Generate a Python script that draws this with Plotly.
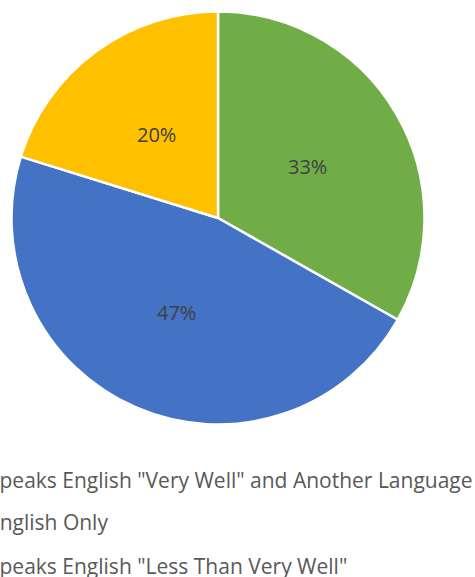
import math
import plotly.graph_objects as go

labels = ['Speaks English "Very Well" and Another Language',
          'English Only',
          'Speaks English "Less Than Very Well"']
values = [33.2, 46.6, 20.2]
colors = ["#70AD47", "#4472C4", "#FFC000"]

W, H = 475, 577
cx, cy, r = 218, 218, 206.5

fig = go.Figure()
fig.add_trace(go.Pie(
    labels=labels, values=values, sort=False, direction="clockwise", rotation=0,
    marker=dict(colors=colors, line=dict(color="white", width=2.5)),
    textinfo="none",
    domain=dict(x=[(cx - r) / W, (cx + r) / W], y=[1 - (cy + r) / H, 1 - (cy - r) / H]),
    showlegend=False, hoverinfo="label+percent",
))

# data labels at half radius on each slice's mid angle (Excel style)
total = sum(values)
cum = 0
for v in values:
    mid = (cum + v / 2) / total * 2 * math.pi
    cum += v
    px = cx + 0.5 * r * math.sin(mid)
    py = cy - 0.5 * r * math.cos(mid)
    fig.add_annotation(x=px / W, y=1 - py / H, xref="paper", yref="paper",
                       xanchor="center", yanchor="middle", showarrow=False,
                       text=f"{v / total:.0%}",
                       font=dict(family="Open Sans", size=20, color="#404040"))

# legend rows (clipped at the left edge, as in the reference)
legend_y = [480, 522, 566]
for lab, yy in zip(labels, legend_y):
    fig.add_annotation(x=-14 / W, y=1 - yy / H, xref="paper", yref="paper",
                       xanchor="left", yanchor="middle", showarrow=False,
                       text=lab,
                       font=dict(family="Open Sans", size=21, color="#595959"))

fig.update_layout(width=W, height=H, margin=dict(l=0, r=0, t=0, b=0, autoexpand=False),
                  paper_bgcolor="white", plot_bgcolor="white")
fig.write_html("out.html")
